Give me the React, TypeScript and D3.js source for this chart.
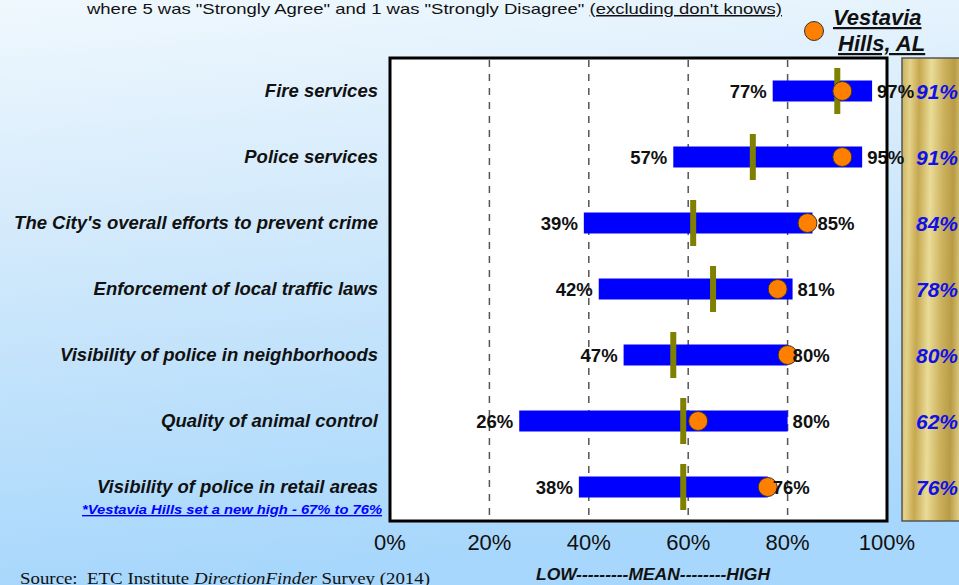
import React from "react";
import * as d3 from "d3";

const categories = [
  "Fire services",
  "Police services",
  "The City's overall efforts to prevent crime",
  "Enforcement of local traffic laws",
  "Visibility of police in neighborhoods",
  "Quality of animal control",
  "Visibility of police in retail areas",
];
const lowValues = [77, 57, 39, 42, 47, 26, 38];
const highValues = [97, 95, 85, 81, 80, 80, 76];
const meanValues = [90, 73, 61, 65, 57, 59, 59];
const vestaviaValues = [91, 91, 84, 78, 80, 62, 76];
const xTicks = [0, 20, 40, 60, 80, 100];

const W = 959;
const H = 585;
const SANS = "'Liberation Sans', Arial, sans-serif";
const SERIF = "'Liberation Serif', 'Times New Roman', serif";

export default function App() {
  const x = d3.scaleLinear().domain([0, 100]).range([390, 887]);
  const y = d3
    .scaleBand<string>()
    .domain(categories)
    .range([59, 521])
    .paddingInner(0)
    .paddingOuter(0);
  const cy = (c: string) => (y(c) as number) + y.bandwidth() / 2 - 1;
  const barH = 21;
  const meanH = 46;

  return (
    <svg
      width={W}
      height={H}
      style={{ position: "absolute", left: 0, top: 0, display: "block" }}
      xmlns="http://www.w3.org/2000/svg"
    >
      <defs>
        <linearGradient id="bg" x1="0" y1="0" x2="0.15" y2="1">
          <stop offset="0" stopColor="#f0f8fe" />
          <stop offset="0.45" stopColor="#cfe8fb" />
          <stop offset="1" stopColor="#a7d7fc" />
        </linearGradient>
        <linearGradient id="gold" x1="0" y1="0" x2="1" y2="0.08">
          <stop offset="0" stopColor="#c9b05c" />
          <stop offset="0.12" stopColor="#e4d28a" />
          <stop offset="0.25" stopColor="#c6a84f" />
          <stop offset="0.42" stopColor="#e9dc98" />
          <stop offset="0.6" stopColor="#cdb25e" />
          <stop offset="0.75" stopColor="#b89b45" />
          <stop offset="0.9" stopColor="#e2d28c" />
          <stop offset="1" stopColor="#d2bb6c" />
        </linearGradient>
      </defs>
      <rect x={0} y={0} width={W} height={H} fill="url(#bg)" />

      {/* header */}
      <text
        x={87}
        y={14}
        fontFamily={SANS}
        fontSize={15}
        fill="#111"
        textLength={695}
        lengthAdjust="spacingAndGlyphs"
      >
        where 5 was "Strongly Agree" and 1 was "Strongly Disagree"{" "}
        <tspan textDecoration="underline">(excluding don't knows)</tspan>
      </text>
      <circle cx={814} cy={31} r={9.5} fill="#ff8000" stroke="#333" strokeWidth={1} />
      <text
        x={833}
        y={25}
        fontFamily={SANS}
        fontSize={22}
        fontWeight="bold"
        fontStyle="italic"
        textDecoration="underline"
        fill="#111"
      >
        Vestavia
      </text>
      <text
        x={838}
        y={51}
        fontFamily={SANS}
        fontSize={22}
        fontWeight="bold"
        fontStyle="italic"
        textDecoration="underline"
        fill="#111"
      >
        Hills, AL
      </text>

      {/* gold panel */}
      <rect x={902} y={58} width={70} height={463} fill="url(#gold)" stroke="#555" strokeWidth={1.5} />

      {/* plot box */}
      <rect x={390} y={58} width={497} height={463} fill="#ffffff" />
      {xTicks
        .filter((t) => t > 0 && t < 100)
        .map((t) => (
          <line
            key={t}
            x1={x(t)}
            x2={x(t)}
            y1={60}
            y2={520}
            stroke="#555"
            strokeWidth={1.5}
            strokeDasharray="7 7"
          />
        ))}

      {categories.map((c, i) => {
        const yc = cy(c);
        return (
          <g key={c}>
            <rect
              x={x(lowValues[i])}
              y={yc - barH / 2}
              width={x(highValues[i]) - x(lowValues[i])}
              height={barH}
              fill="#0000ff"
            />
            <rect
              x={x(meanValues[i]) - 3}
              y={yc - meanH / 2}
              width={6}
              height={meanH}
              fill="#808000"
            />
            <circle
              cx={x(vestaviaValues[i])}
              cy={yc}
              r={9.5}
              fill="#ff8000"
              stroke="#333"
              strokeWidth={1}
            />
            <text
              x={x(lowValues[i]) - 6}
              y={yc + 6.5}
              textAnchor="end"
              fontFamily={SANS}
              fontSize={18.5}
              fontWeight="bold"
              fill="#111"
            >
              {lowValues[i]}%
            </text>
            <text
              x={x(highValues[i]) + 5}
              y={yc + 6.5}
              textAnchor="start"
              fontFamily={SANS}
              fontSize={18.5}
              fontWeight="bold"
              fill="#111"
            >
              {highValues[i]}%
            </text>
            <text
              x={378}
              y={yc + 6}
              textAnchor="end"
              fontFamily={SANS}
              fontSize={18.5}
              fontWeight="bold"
              fontStyle="italic"
              fill="#111"
            >
              {c}
            </text>
            <text
              x={937}
              y={yc + 8}
              textAnchor="middle"
              fontFamily={SANS}
              fontSize={21}
              fontWeight="bold"
              fontStyle="italic"
              fill="#1010e8"
            >
              {vestaviaValues[i]}%
            </text>
          </g>
        );
      })}

      <rect x={390} y={58} width={497} height={463} fill="none" stroke="#000" strokeWidth={3} />

      {/* footnote */}
      <text
        x={82}
        y={514}
        fontFamily={SANS}
        fontSize={13.5}
        fontWeight="bold"
        fontStyle="italic"
        textDecoration="underline"
        fill="#0000ff"
        textLength={300}
        lengthAdjust="spacingAndGlyphs"
      >
        *Vestavia Hills set a new high - 67% to 76%
      </text>

      {/* x ticks */}
      {xTicks.map((t) => (
        <text
          key={t}
          x={x(t)}
          y={550}
          textAnchor="middle"
          fontFamily={SANS}
          fontSize={22}
          fill="#111"
        >
          {t}%
        </text>
      ))}

      <text
        x={536}
        y={580}
        fontFamily={SANS}
        fontSize={16}
        fontWeight="bold"
        fontStyle="italic"
        fill="#111"
        textLength={234}
        lengthAdjust="spacingAndGlyphs"
      >
        LOW---------MEAN--------HIGH
      </text>

      <text
        x={20}
        y={584}
        fontFamily={SERIF}
        fontSize={17.5}
        fill="#111"
        textLength={410}
        lengthAdjust="spacingAndGlyphs"
      >
        Source:{"\u00a0\u00a0"}ETC Institute <tspan fontStyle="italic">DirectionFinder</tspan> Survey (2014)
      </text>
    </svg>
  );
}
